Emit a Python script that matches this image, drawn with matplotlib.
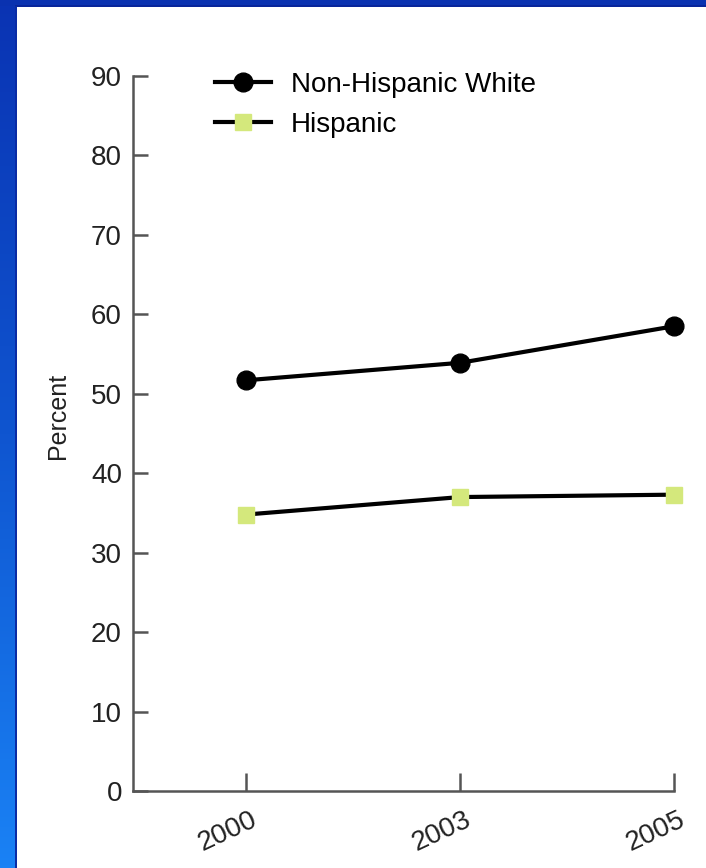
import numpy as np
import matplotlib
matplotlib.use("Agg")
import matplotlib.pyplot as plt
import matplotlib.transforms as mtransforms
from matplotlib.colors import LinearSegmentedColormap
from matplotlib.patches import Rectangle

plt.rcParams["font.family"] = ["Liberation Sans", "DejaVu Sans"]

years = ["2000", "2003", "2005"]
white = [51.7, 53.9, 58.5]
hispanic = [34.8, 37.0, 37.3]

W, H = 706, 868
fig = plt.figure(figsize=(W / 100, H / 100), dpi=100)

# ── blue slide frame ─────────────────────────────────────────────────────────
bg = fig.add_axes([0, 0, 1, 1])
bg.set_axis_off()
cmap = LinearSegmentedColormap.from_list("slide", ["#0a33b3", "#0f55d0", "#1a82f5"])
grad = np.linspace(0, 1, 256).reshape(-1, 1)
bg.imshow(grad, cmap=cmap, aspect="auto", extent=[0, W, H, 0])
bg.set_xlim(0, W); bg.set_ylim(H, 0)
bg.add_patch(Rectangle((0, 0), W, 6, color="#0a32b0", lw=0))
bg.add_patch(Rectangle((15, 5), W, 2, color="#08259a", lw=0))
bg.add_patch(Rectangle((15, 6), 2, H, color="#0a2ca5", lw=0))
bg.add_patch(Rectangle((17, 7), W, H, color="white", lw=0))

# ── chart ────────────────────────────────────────────────────────────────────
x0, x1, y0, y1 = 133, 674, 76, 791
ax = fig.add_axes([x0 / W, 1 - y1 / H, (x1 - x0) / W, (y1 - y0) / H])
ax.patch.set_alpha(0)
xs = np.arange(len(years))
ax.plot(xs, white, color="black", lw=3, marker="o", ms=13.5, mfc="black",
        mec="black", label="Non-Hispanic White", clip_on=False, zorder=3)
ax.plot(xs, hispanic, color="black", lw=3, marker="s", ms=12, mfc="#d4e87c",
        mec="#d4e87c", label="Hispanic", clip_on=False, zorder=3)

ax.set_xlim(-0.53, 2)
ax.set_ylim(0, 90)
ax.set_yticks(range(0, 91, 10))
ax.set_xticks(xs)
ax.set_xticklabels(years, rotation=25, ha="right", va="top", rotation_mode="anchor")
for s in ["top", "right"]:
    ax.spines[s].set_visible(False)
for s in ["left", "bottom"]:
    ax.spines[s].set_color("#555555")
    ax.spines[s].set_linewidth(1.8)
ax.tick_params(axis="y", direction="in", length=11, width=1.8, color="#555555",
               labelsize=20, pad=8, labelcolor="#222222")
ax.tick_params(axis="x", direction="in", length=13, width=1.8, color="#555555",
               labelsize=20, pad=11, labelcolor="#222222")
shift = mtransforms.ScaledTranslation(4 / 100, 0, fig.dpi_scale_trans)
for lbl in ax.get_xticklabels():
    lbl.set_transform(lbl.get_transform() + shift)

fig.text(58 / W, 1 - 416 / H, "Percent", rotation=90, ha="center", va="center",
         fontsize=18, color="#222222")

ax.legend(loc="upper left", bbox_to_anchor=(215 / W, 1 - 72 / H),
          bbox_transform=fig.transFigure, frameon=False, fontsize=20,
          handlelength=2.0, handletextpad=0.72, labelspacing=0.49,
          borderpad=0, borderaxespad=0)

fig.savefig("out.png", dpi=100)
